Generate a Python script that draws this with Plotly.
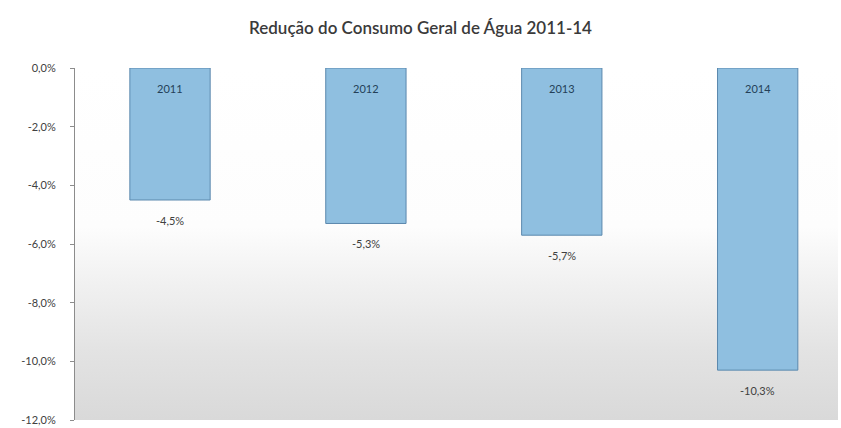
import plotly.graph_objects as go

# Data: yearly reduction in overall water consumption (fraction)
years = ["2011", "2012", "2013", "2014"]
reduction = [-0.045, -0.053, -0.057, -0.103]
tick_values = [0, -0.02, -0.04, -0.06, -0.08, -0.10, -0.12]


def pct_label(v):
    return f"{v * 100:.1f}%".replace(".", ",")


x_pos = list(range(len(years)))
X_MIN, X_MAX = -0.485, 3.41
Y_MIN, Y_MAX = -0.12, 0.0
FONT = "Lato, sans-serif"

fig = go.Figure()

# Plot-area background: white at the top fading to light grey at the bottom
fig.add_trace(go.Scatter(
    x=[X_MIN, X_MAX, X_MAX, X_MIN, X_MIN],
    y=[Y_MAX, Y_MAX, Y_MIN, Y_MIN, Y_MAX],
    mode="lines",
    line=dict(width=0),
    fill="toself",
    fillgradient=dict(
        type="vertical",
        colorscale=[[0.0, "#d9d9d9"], [0.2, "#e3e3e3"], [0.42, "#f3f3f3"],
                    [0.55, "#fdfdfd"], [1.0, "#ffffff"]],
    ),
    hoverinfo="skip",
    showlegend=False,
    xaxis="x", yaxis="y",
))

# Bars (on an overlay so they sit above the background)
fig.add_trace(go.Bar(
    x=x_pos,
    y=reduction,
    width=0.41,
    marker=dict(color="#8fbfe0", line=dict(color="#5b88ad", width=1)),
    showlegend=False,
    xaxis="x2", yaxis="y2",
))

# Year written near the top of each bar, value written under each bar end
for xv, year, yv in zip(x_pos, years, reduction):
    fig.add_annotation(
        x=xv, y=0, xref="x2", yref="y2",
        text=year,
        showarrow=False,
        yanchor="top",
        yshift=-12,
        font=dict(family=FONT, size=11, color="#243f58"),
    )
    fig.add_annotation(
        x=xv, y=yv, xref="x2", yref="y2",
        text=pct_label(yv),
        showarrow=False,
        yanchor="top",
        yshift=-12,
        font=dict(family=FONT, size=11, color="#404040"),
    )

fig.update_layout(
    width=841,
    height=428,
    margin=dict(l=75, r=3, t=68, b=8),
    paper_bgcolor="white",
    plot_bgcolor="white",
    title=dict(
        text="Redução do Consumo Geral de Água 2011-14",
        x=0.5, xanchor="center",
        y=0.935, yanchor="middle",
        font=dict(family=FONT, size=17, color="#3a3a3a", weight=600),
    ),
    xaxis=dict(
        range=[X_MIN, X_MAX], showticklabels=False, showgrid=False,
        zeroline=False, showline=False, ticks="",
    ),
    yaxis=dict(
        range=[Y_MIN, Y_MAX],
        tickvals=tick_values,
        ticktext=[pct_label(v) for v in tick_values],
        ticks="outside", ticklen=4, tickcolor="#8c8c8c",
        ticklabelstandoff=12,
        showline=True, linecolor="#8c8c8c", linewidth=1,
        showgrid=False, zeroline=False,
        tickfont=dict(family=FONT, size=11, color="#404040"),
    ),
    xaxis2=dict(
        range=[X_MIN, X_MAX], overlaying="x", showticklabels=False,
        showgrid=False, zeroline=False, showline=False, ticks="",
    ),
    yaxis2=dict(
        range=[Y_MIN, Y_MAX], overlaying="y", showticklabels=False,
        showgrid=False, zeroline=True, zerolinecolor="#8c8c8c",
        zerolinewidth=1, showline=False, ticks="",
    ),
)

fig.write_html("out.html")
